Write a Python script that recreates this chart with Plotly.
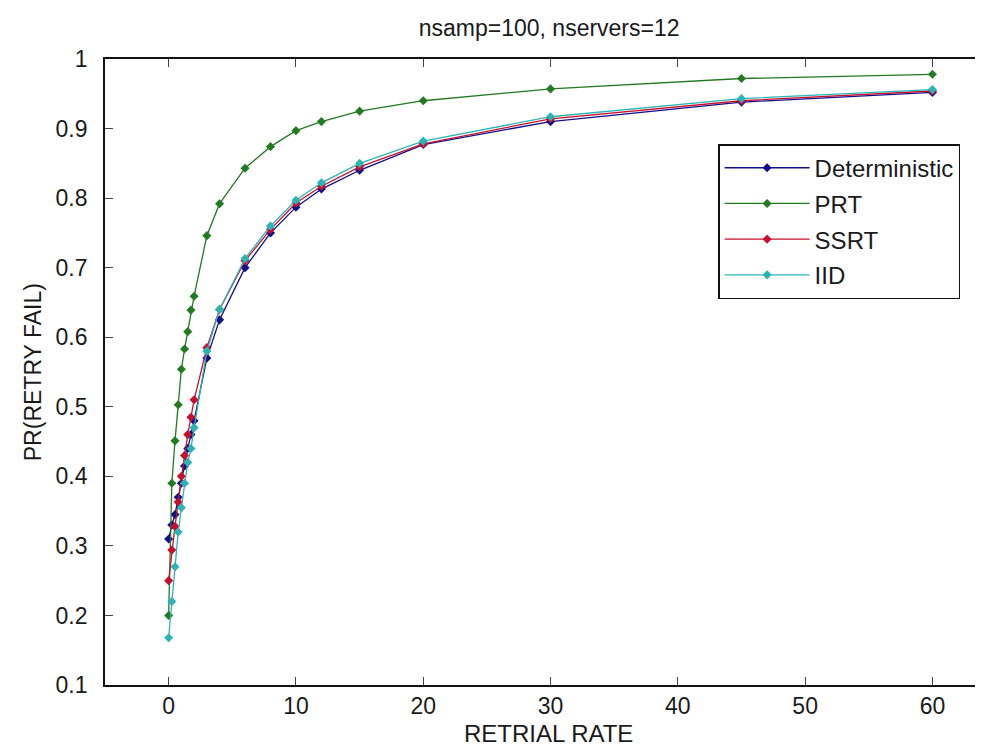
import plotly.graph_objects as go

x_rate = [0, 0.25, 0.5, 0.75, 1, 1.25, 1.5, 1.75, 2, 3, 4, 6, 8, 10, 12, 15, 20, 30, 45, 60]

deterministic = [0.31, 0.33, 0.345, 0.37, 0.39, 0.415, 0.44, 0.46, 0.48, 0.57, 0.625, 0.70, 0.75, 0.787, 0.813, 0.84, 0.877, 0.91, 0.938, 0.952]
prt = [0.20, 0.39, 0.451, 0.503, 0.554, 0.583, 0.608, 0.639, 0.659, 0.746, 0.792, 0.843, 0.874, 0.897, 0.91, 0.925, 0.94, 0.957, 0.972, 0.978]
ssrt = [0.25, 0.294, 0.328, 0.363, 0.40, 0.43, 0.46, 0.485, 0.51, 0.585, 0.64, 0.71, 0.755, 0.793, 0.817, 0.845, 0.878, 0.914, 0.94, 0.954]
iid = [0.168, 0.22, 0.27, 0.32, 0.355, 0.39, 0.42, 0.44, 0.47, 0.58, 0.64, 0.713, 0.76, 0.797, 0.822, 0.85, 0.882, 0.917, 0.943, 0.956]

series_names = ["Deterministic", "PRT", "SSRT", "IID"]
series_values = [deterministic, prt, ssrt, iid]
series_colors = ["#10108c", "#237a23", "#c8102c", "#2cb4b4"]

x_ticks = [0, 10, 20, 30, 40, 50, 60]
y_ticks = [0.1, 0.2, 0.3, 0.4, 0.5, 0.6, 0.7, 0.8, 0.9, 1]
y_tick_text = ["0.1", "0.2", "0.3", "0.4", "0.5", "0.6", "0.7", "0.8", "0.9", "1"]

title_text = "nsamp=100, nservers=12"
x_title = "RETRIAL RATE"
y_title = "PR(RETRY FAIL)"

FONT = "Liberation Sans"
TXT = "#1a1a1a"

fig = go.Figure()
for name, vals, col in zip(series_names, series_values, series_colors):
    fig.add_trace(go.Scatter(
        x=x_rate, y=vals, name=name, mode="lines+markers", legendgroup=name,
        line=dict(color=col, width=1.3),
        marker=dict(symbol="diamond", size=7, color=col),
    ))

fig.add_annotation(text=x_title, xref="paper", yref="paper", x=0.5, y=-0.077,
                   xanchor="center", yanchor="middle", showarrow=False,
                   font=dict(size=24, color=TXT))
fig.add_annotation(text=y_title, xref="paper", yref="paper", x=-0.081, y=0.5,
                   xanchor="center", yanchor="middle", showarrow=False, textangle=-90,
                   font=dict(size=23, color=TXT))

fig.update_layout(
    width=983, height=754,
    margin=dict(l=97, r=0, t=51, b=77),
    paper_bgcolor="white", plot_bgcolor="white",
    font=dict(family=FONT, size=23, color=TXT),
    title=dict(text=title_text, x=0.5505, xanchor="center",
               y=0.9735, yanchor="middle", font=dict(size=23, color=TXT)),
    showlegend=True,
    legend=dict(x=0.692, y=0.864, xanchor="left", yanchor="top",
                bgcolor="white", bordercolor="#111111", borderwidth=1.5,
                font=dict(size=24, color=TXT), itemwidth=85,
                tracegroupgap=1.5),
    xaxis=dict(range=[-5, 64.6], tickvals=x_ticks, ticks="inside", ticklen=8,
               showline=True, linecolor="#111111", linewidth=1.7, mirror="ticks",
               showgrid=False, zeroline=False, ticklabelstandoff=0,
               tickfont=dict(size=23)),
    yaxis=dict(range=[0.1, 1.0], tickvals=y_ticks, ticktext=y_tick_text, ticks="inside", ticklen=8,
               showline=True, linecolor="#111111", linewidth=1.7,
               showgrid=False, zeroline=False, ticklabelstandoff=11,
               tickfont=dict(size=23)),
)

fig.write_html("out.html")
